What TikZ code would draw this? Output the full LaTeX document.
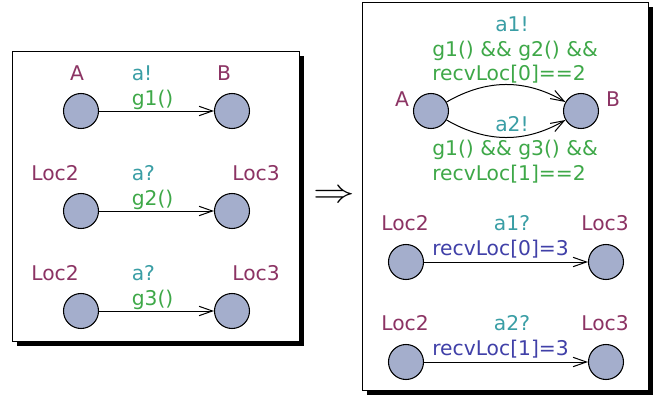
\documentclass[tikz,border=0pt]{standalone}
\usepackage{fontspec}
\setmainfont{DejaVu Sans}
\usetikzlibrary{arrows.meta}
\definecolor{locname}{RGB}{140,52,100}
\definecolor{syncc}{RGB}{58,158,165}
\definecolor{guardc}{RGB}{62,168,72}
\definecolor{updc}{RGB}{64,64,168}
\definecolor{locfill}{RGB}{164,174,204}
\tikzset{
  loc/.style={circle,draw=black,line width=0.8pt,fill=locfill,minimum size=26.25pt,inner sep=0pt},
  lbl/.style={inner sep=0pt,font=\fontsize{15.2}{18}\selectfont},
  lname/.style={lbl,text=locname,anchor=base},
  sync/.style={lbl,text=syncc},
  guard/.style={lbl,text=guardc,anchor=base west},
  upd/.style={lbl,text=updc,anchor=base west},
  edge/.style={draw=black,line width=0.75pt,-{Straight Barb[length=10pt,width=7pt,line width=0.75pt]}},
  frame/.style={draw=black,line width=0.6pt,fill=white},
  shadowbox/.style={fill=black}
}
\begin{document}
\begin{tikzpicture}[x=0.75pt,y=0.75pt]
\useasboundingbox (0,0) rectangle (662,-396);
\fill[white] (0,0) rectangle (662,-396);
% left box
\fill[shadowbox] (17,-56) rectangle (304,-346);
\draw[frame] (12,-51) rectangle (299,-341);
% right box
\fill[shadowbox] (367,-7) rectangle (653,-395);
\draw[frame] (362,-2) rectangle (648,-390);
% implies arrow
\node[inner sep=0pt] (impl) at (334,-196) {\scalebox{1.25}[1]{\fontsize{25}{25}\selectfont$\Rightarrow$}};

% left rows
\node[loc] (la1) at (81,-111) {};
\node[loc] (lb1) at (232,-111) {};
\node[loc] (la2) at (81,-211) {};
\node[loc] (lb2) at (232,-211) {};
\node[loc] (la3) at (81,-311) {};
\node[loc] (lb3) at (232,-311) {};
\draw[edge] (la1) -- (lb1);
\draw[edge] (la2) -- (lb2);
\draw[edge] (la3) -- (lb3);
\node[lname] (tA1) at (77,-80.7) {A};
\node[lname] (tB1) at (224,-80.7) {B};
\node[sync,anchor=base west] (ts1) at (131.5,-80.7) {a!};
\node[guard] (tg1) at (131.5,-105) {g1()};
\node[lname] (tA2) at (55,-180.7) {Loc2};
\node[lname] (tB2) at (256,-180.7) {Loc3};
\node[sync,anchor=base west] (ts2) at (131.5,-180.7) {a?};
\node[guard] (tg2) at (131.5,-205) {g2()};
\node[lname] (tA3) at (55,-280.7) {Loc2};
\node[lname] (tB3) at (256,-280.7) {Loc3};
\node[sync,anchor=base west] (ts3) at (131.5,-280.7) {a?};
\node[guard] (tg3) at (131.5,-305) {g3()};

% right top
\node[loc] (rA) at (431,-111) {};
\node[loc] (rB) at (581,-111) {};
\draw[edge] (rA) to[out=30,in=150] (rB);
\draw[edge] (rA) to[out=-30,in=-150] (rB);
\node[lname] (trA) at (402,-106) {A};
\node[lname] (trB) at (613,-106) {B};
\node[sync,anchor=base] (tsa1) at (512,-31.7) {a1!};
\node[guard] (tga1) at (432,-56.5) {g1() \&\& g2() \&\&};
\node[guard] (tga1b) at (432,-80.5) {recvLoc[0]==2};
\node[sync,anchor=base] (tsa2) at (512,-131) {a2!};
\node[guard] (tga2) at (432,-156) {g1() \&\& g3() \&\&};
\node[guard] (tga2b) at (432,-180) {recvLoc[1]==2};

% right bottom
\node[loc] (rc1) at (406,-262) {};
\node[loc] (rd1) at (606,-262) {};
\node[loc] (rc2) at (406,-362) {};
\node[loc] (rd2) at (606,-362) {};
\draw[edge] (rc1) -- (rd1);
\draw[edge] (rc2) -- (rd2);
\node[lname] (tc1) at (405,-230.7) {Loc2};
\node[lname] (td1) at (605,-230.7) {Loc3};
\node[sync,anchor=base] (tsr1) at (512,-230.7) {a1?};
\node[upd] (tu1) at (432,-255) {recvLoc[0]=3};
\node[lname] (tc2) at (405,-330.7) {Loc2};
\node[lname] (td2) at (605,-330.7) {Loc3};
\node[sync,anchor=base] (tsr2) at (512,-330.7) {a2?};
\node[upd] (tu2) at (432,-355) {recvLoc[1]=3};
\end{tikzpicture}
\end{document}
